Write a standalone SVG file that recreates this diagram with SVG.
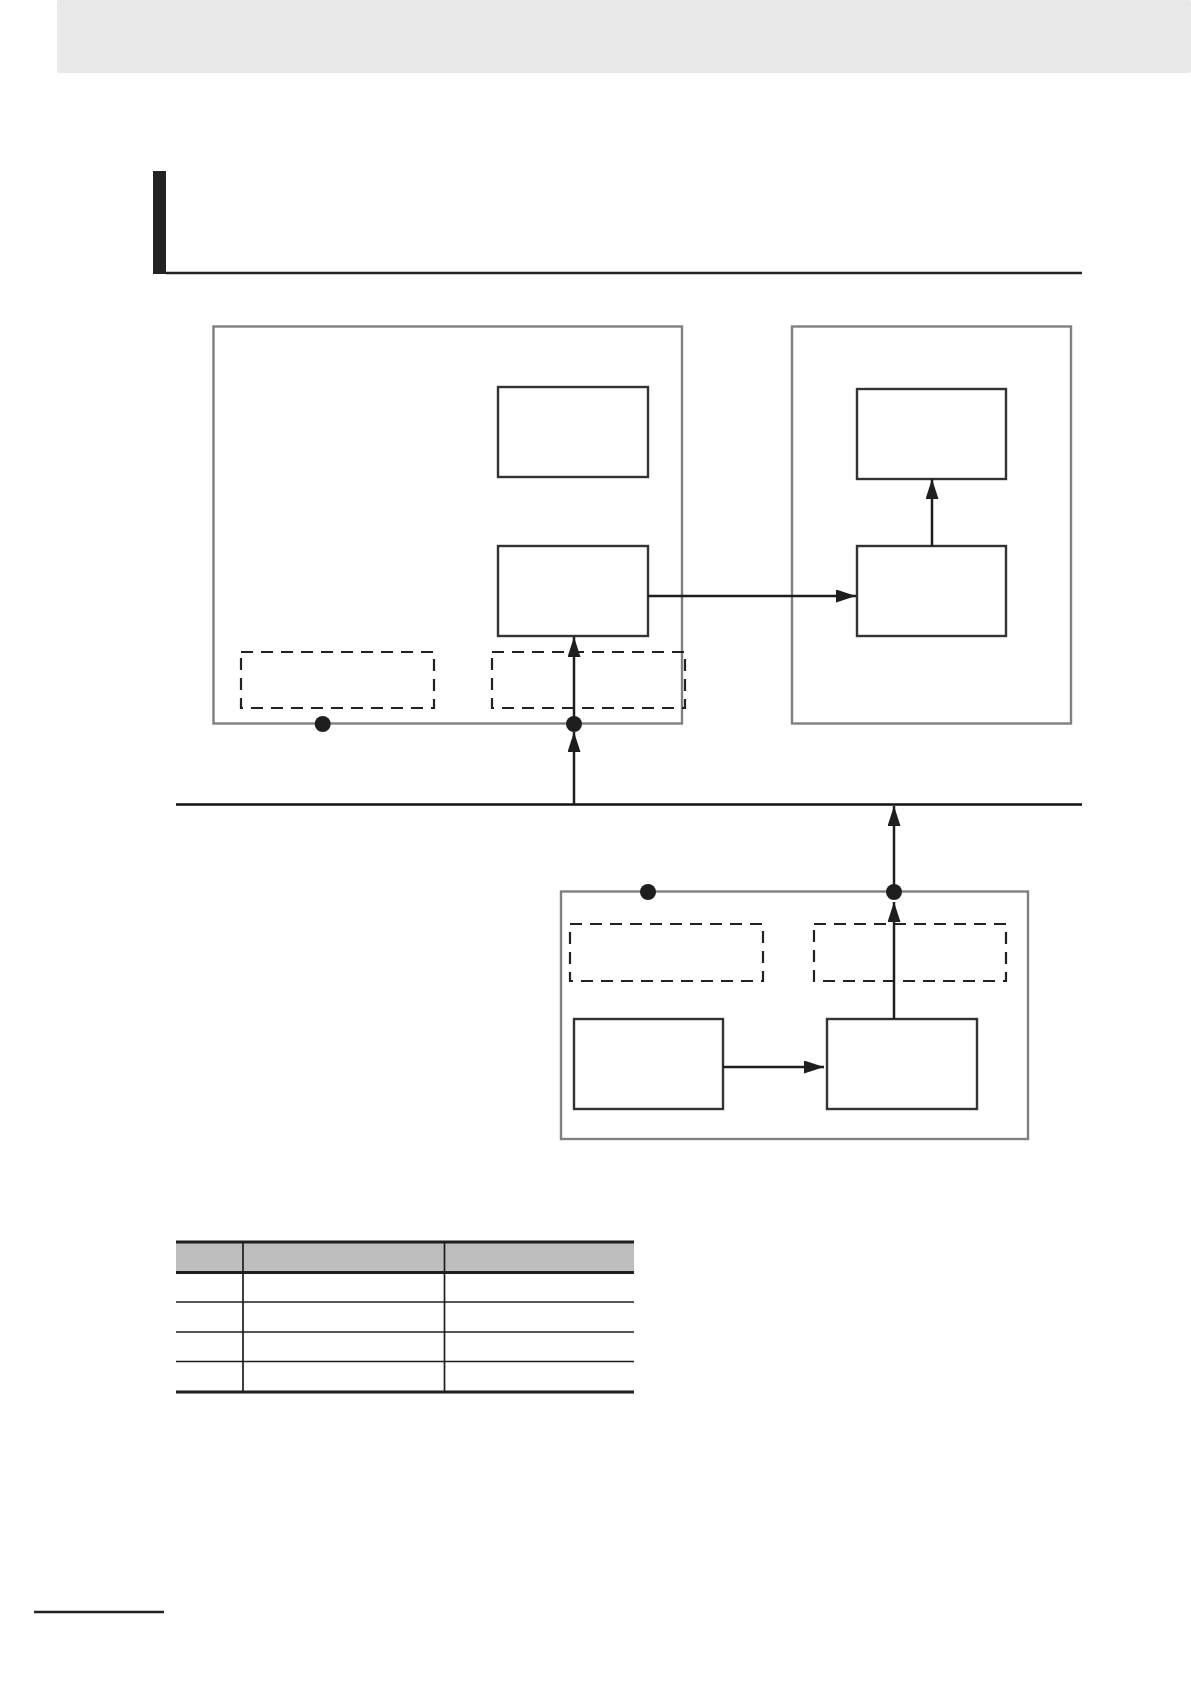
<svg xmlns="http://www.w3.org/2000/svg" width="1191" height="1684" viewBox="0 0 1191 1684">
<style>
.outer{fill:none;stroke:#808080;stroke-width:2.4}
.inner{fill:#fff;stroke:#333;stroke-width:2.4}
.dash{fill:none;stroke:#222;stroke-width:2.2;stroke-dasharray:12 8}
.conn{fill:none;stroke:#1e1e1e;stroke-width:2.5}
.dot{fill:#1e1e1e}
.tl{stroke:#1e1e1e;stroke-width:1.7}
.tlt{stroke:#1e1e1e;stroke-width:2.8}
</style>
<defs>
<marker id="ah" viewBox="0 0 20 13" refX="20" refY="6.5" markerWidth="20" markerHeight="13" markerUnits="userSpaceOnUse" orient="auto">
<path d="M0,0 L20,6.5 L0,13 z" fill="#1e1e1e"/>
</marker>
</defs>
<rect x="57" y="0" width="1134" height="73" fill="#e8e8e8" rx="2"/>
<rect x="153" y="171" width="13" height="103" fill="#222"/>
<line x1="166" y1="273" x2="1082" y2="273" stroke="#222" stroke-width="2.4"/>
<line x1="176" y1="804.5" x2="1082" y2="804.5" stroke="#111" stroke-width="2.6"/>
<g id="unitA">
<rect class="outer" x="213.5" y="326.5" width="468.5" height="397"/>
<rect id="a-box1" class="inner" x="498" y="387" width="150" height="90"/>
<rect id="a-box2" class="inner" x="498" y="546" width="150" height="90"/>
<rect id="a-port1" class="dash" x="241" y="652" width="193" height="56"/>
<rect id="a-port2" class="dash" x="492" y="652" width="193" height="56"/>
</g>
<g id="unitB">
<rect class="outer" x="792" y="326.5" width="279" height="397"/>
<rect id="b-box1" class="inner" x="857" y="389" width="149" height="90"/>
<rect id="b-box2" class="inner" x="857" y="546" width="149" height="90"/>
</g>
<g id="unitC">
<rect class="outer" x="561" y="891.5" width="467" height="247.5"/>
<rect id="c-port1" class="dash" x="570" y="924" width="193" height="57"/>
<rect id="c-port2" class="dash" x="814" y="924" width="192" height="57"/>
<rect id="c-box1" class="inner" x="574" y="1019" width="149" height="90"/>
<rect id="c-box2" class="inner" x="827" y="1019" width="150" height="90"/>
</g>
<g id="connectors">
<line class="conn" x1="574" y1="804" x2="574" y2="732" marker-end="url(#ah)"/>
<line class="conn" x1="574" y1="724" x2="574" y2="637" marker-end="url(#ah)"/>
<line class="conn" x1="648" y1="596" x2="856" y2="596" marker-end="url(#ah)"/>
<line class="conn" x1="932" y1="546" x2="932" y2="479" marker-end="url(#ah)"/>
<line class="conn" x1="894" y1="1019" x2="894" y2="902" marker-end="url(#ah)"/>
<line class="conn" x1="894" y1="892" x2="894" y2="806" marker-end="url(#ah)"/>
<line class="conn" x1="723" y1="1067" x2="824" y2="1067" marker-end="url(#ah)"/>
<circle class="dot" cx="322.7" cy="724" r="8"/>
<circle class="dot" cx="574" cy="724" r="8"/>
<circle class="dot" cx="648" cy="892" r="8"/>
<circle class="dot" cx="894" cy="892" r="8"/>
</g>
<g id="table">
<rect x="176" y="1242" width="458" height="30" fill="#bebebe"/>
<line class="tlt" x1="176" y1="1242" x2="634" y2="1242"/>
<line class="tlt" x1="176" y1="1272.5" x2="634" y2="1272.5"/>
<line class="tl" x1="176" y1="1302" x2="634" y2="1302"/>
<line class="tl" x1="176" y1="1332" x2="634" y2="1332"/>
<line class="tl" x1="176" y1="1361.5" x2="634" y2="1361.5"/>
<line class="tlt" x1="176" y1="1392" x2="634" y2="1392"/>
<line class="tl" x1="243" y1="1242" x2="243" y2="1392"/>
<line class="tl" x1="444.5" y1="1242" x2="444.5" y2="1392"/>
</g>
<line x1="34" y1="1612" x2="164" y2="1612" stroke="#222" stroke-width="2.4"/>
</svg>
